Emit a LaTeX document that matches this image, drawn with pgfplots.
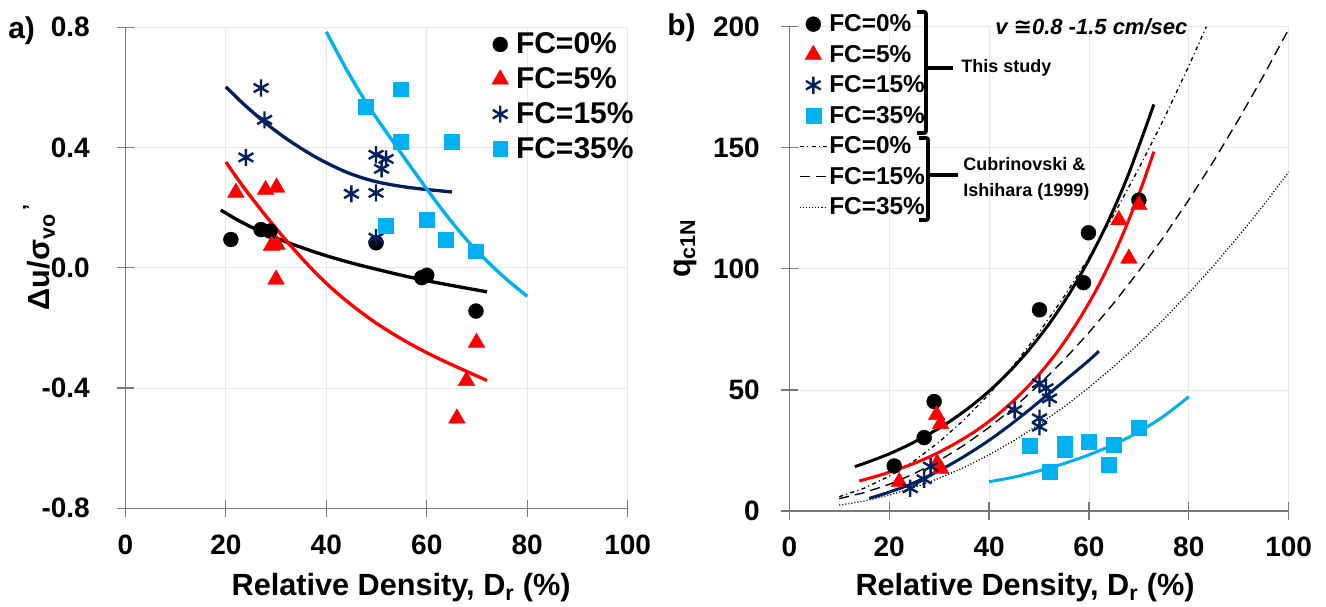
\documentclass[border=0pt]{standalone}
\usepackage{fontspec}
\setmainfont{Liberation Sans}
\newfontfamily\symfont{DejaVu Sans}
\usepackage{pgfplots}
\pgfplotsset{compat=1.18}

\definecolor{fcnavy}{RGB}{0,32,96}
\definecolor{fccyan}{RGB}{0,176,240}
\definecolor{fcred}{RGB}{255,0,0}
\definecolor{axgray}{RGB}{120,120,120}
\definecolor{gridgray}{RGB}{232,232,232}

\pgfplotsset{
  panel/.style={
    scale only axis,
    anchor=south west,
    axis x line=bottom, axis y line=left,
    axis line style={draw=axgray, line width=0.9pt, -},
    x axis line style={-}, y axis line style={-},
    tick style={draw=axgray, line width=0.9pt},
    major tick length=13pt,
    tick align=center,
    grid=major,
    major grid style={draw=gridgray, line width=0.6pt},
    xmin=0, xmax=100, xtick={0,20,...,100},
    /pgf/number format/assume math mode=true,
    ticklabel style={font=\fontsize{21pt}{25pt}\selectfont\bfseries},
    xticklabel style={anchor=north, inner sep=0pt},
    xticklabel shift=13pt,
    label style={font=\fontsize{23pt}{27pt}\selectfont\bfseries},
    legend cell align=left,
    legend image code/.code={\draw[mark repeat=2,mark phase=2,#1] plot coordinates {(0pt,0pt) (10pt,0pt) (20pt,0pt)};},
  },
  m0/.style={only marks, mark=*, mark size=5.6pt, black, mark options={fill=black, draw=black, line width=0.3pt, solid}},
  m5/.style={only marks, mark=triangle*, mark size=7.2pt, fcred, mark options={fill=fcred, draw=fcred, line width=0.3pt, solid}},
  m15/.style={only marks, mark=asterisk, mark size=6.4pt, fcnavy, mark options={line width=1.8pt, solid}},
  m35/.style={only marks, mark=square*, mark size=5.6pt, fccyan, mark options={fill=fccyan, draw=fccyan, line width=0.3pt, solid}},
}

\begin{document}
\begin{tikzpicture}
\path[use as bounding box] (0,0) rectangle (994.5pt,454.5pt);

% ---------------- a) pore pressure ratio ----------------
\begin{axis}[panel,
  at={(94.05pt,73.3pt)}, width=376.7pt, height=360.75pt,
  ymin=-0.8, ymax=0.8, ytick={-0.8,-0.4,0,0.4,0.8},
  yticklabels={-0.8,-0.4,0.0,0.4,0.8},
  yticklabel style={anchor=east, inner sep=0pt},
  yticklabel shift=20pt,
  xlabel={Relative Density, D\textsubscript{r} (\%)},
  xlabel style={at={(axis description cs:0.549,-0.165)}, anchor=center},
  legend style={draw=none, fill=none, at={(0.7297,0.988)}, anchor=north west,
    inner sep=0pt, outer sep=0pt, row sep=8.9pt, column sep=5.6pt,
    nodes={inner sep=0pt},
    font=\fontsize{22.5pt}{27pt}\selectfont\bfseries},
]
% trend curves
\addplot[forget plot, black, line width=2.5pt, smooth] coordinates {
 (19,0.192)(22,0.162)(25,0.136)(28,0.113)(32,0.086)(36,0.062)(40,0.040)
 (45,0.016)(50,-0.005)(55,-0.025)(60,-0.043)(65,-0.059)(72,-0.080)};
\addplot[forget plot, fcred, line width=2.5pt, smooth] coordinates {
 (20,0.352)(23,0.280)(26,0.214)(29,0.151)(32,0.091)(35,0.034)(38,-0.019)
 (41,-0.067)(44,-0.110)(47,-0.149)(50,-0.185)(54,-0.227)(58,-0.265)
 (62,-0.299)(66,-0.330)(72,-0.375)};
\addplot[forget plot, fcnavy, line width=2.5pt, smooth] coordinates {
 (20,0.602)(23,0.553)(26,0.508)(29,0.467)(32,0.430)(35,0.397)(38,0.367)
 (41,0.341)(44,0.318)(47,0.300)(50,0.286)(53,0.276)(56,0.268)(59,0.262)
 (62,0.257)(65,0.252)};
\addplot[forget plot, fccyan, line width=2.5pt, smooth] coordinates {
 (40,0.785)(44,0.660)(48,0.548)(52,0.450)(56,0.355)(60,0.262)(64,0.173)
 (68,0.092)(72,0.022)(76,-0.040)(80,-0.095)};
% test results
\addplot[m0] coordinates {(21,0.094)(27,0.127)(28.8,0.122)(49.9,0.083)(59,-0.033)(60,-0.025)(69.8,-0.144)};
\addlegendentry{FC=0\%}
\addplot[m5] coordinates {(22,0.25)(27.9,0.259)(30.1,0.267)(29.1,0.074)(30.2,0.077)(30,-0.039)(66,-0.501)(67.9,-0.376)(69.9,-0.249)};
\addlegendentry{FC=5\%}
\addplot[m15] coordinates {(27,0.598)(27.7,0.492)(24,0.367)(49.9,0.376)(51.9,0.362)(51,0.329)(45,0.246)(49.9,0.249)(49.9,0.100)};
\addlegendentry{FC=15\%}
\addplot[m35] coordinates {(47.8,0.537)(54.9,0.594)(54.9,0.420)(64.9,0.420)(51.9,0.141)(59.9,0.160)(63.8,0.092)(69.8,0.055)};
\addlegendentry{FC=35\%}
\end{axis}

% ---------------- b) normalised cone resistance ----------------
\begin{axis}[panel,
  at={(592pt,71.25pt)}, width=374.5pt, height=363.2pt,
  ymin=0, ymax=200, ytick={0,50,...,200},
  yticklabel style={anchor=east, inner sep=0pt},
  yticklabel shift=15.5pt,
  xlabel={Relative Density, D\textsubscript{r} (\%)},
  xlabel style={at={(axis description cs:0.472,-0.158)}, anchor=center},
  legend style={draw=none, fill=none, at={(0.020,1.025)}, anchor=north west,
    inner sep=0pt, outer sep=0pt, row sep=8.6pt, column sep=1.5pt,
    nodes={inner sep=0pt},
    font=\fontsize{18.3pt}{22pt}\selectfont\bfseries},
]
% Cubrinovski & Ishihara (1999)
\addplot[forget plot, black, line width=1pt, dash pattern=on 3pt off 2.5pt on 0.8pt off 2.5pt] coordinates {
 (10,5.9)(15,9.4)(20,14.4)(25,20.7)(30,28.5)(35,37.7)(40,48.3)(45,60.3)(50,73.7)
 (55,88.5)(60,104.7)(65,122.4)(70,141.5)(75,161.9)(80,183.8)(83.5,200)};
\addplot[forget plot, black, line width=1pt, dash pattern=on 7.5pt off 4.5pt] coordinates {
 (10,5.1)(15,7.6)(20,11.0)(25,15.4)(30,20.8)(35,27.2)(40,34.5)(45,42.8)(50,52.1)
 (55,62.4)(60,73.7)(65,85.9)(70,99.1)(75,113.3)(80,128.5)(85,144.6)(90,161.8)
 (95,179.9)(100,199.0)};
\addplot[forget plot, black, line width=1pt, dash pattern=on 0.8pt off 1.5pt] coordinates {
 (10,2.4)(15,4.1)(20,6.6)(25,9.7)(30,13.5)(35,18.0)(40,23.2)(45,29.1)(50,35.75)
 (55,43.0)(60,51.0)(65,59.7)(70,69.1)(75,79.2)(80,90.0)(85,101.4)(90,113.6)
 (95,126.4)(100,140)};
% trend curves of the test series
\addplot[forget plot, black, line width=2.25pt, smooth] coordinates {
 (13.1,18.3)(16,20.4)(20,23.6)(24,27.4)(28,31.8)(32,36.8)(36,42.7)(40,49.5)
 (44,57.4)(48,66.6)(52,77.2)(56,89.5)(60,103.8)(64,120.3)(68,139.5)(73,167.9)};
\addplot[forget plot, fcred, line width=2.25pt, smooth] coordinates {
 (14,12.4)(18,14.7)(22,17.4)(26,20.5)(30,24.3)(34,28.8)(38,34.0)(42,40.3)
 (46,47.7)(50,56.4)(54,66.7)(58,79.0)(62,93.4)(66,110.5)(70,130.8)(73,148.4)};
\addplot[forget plot, fcnavy, line width=2.25pt, smooth] coordinates {
 (16,5.2)(20,7.8)(24,10.8)(28,14.6)(32,18.9)(36,23.8)(40,29.2)(44,35.2)
 (48,41.7)(52,48.5)(56,55.3)(60,62.2)(62,66.0)};
\addplot[forget plot, fccyan, line width=2.25pt, smooth] coordinates {
 (40,12.1)(45,14.0)(50,16.6)(55,19.6)(60,23.2)(65,27.5)(70,32.7)(75,39.2)(80,47.2)};
% test results
\addplot[m0] coordinates {(21,18.6)(27,30.3)(29,45.2)(50.1,83.1)(58.9,94.3)(59.9,114.9)(70,128.4)};
\addlegendentry{FC=0\%}
\addplot[m5] coordinates {(22,12.0)(29.5,39.7)(30.3,36.0)(29.6,19.7)(30.3,17.5)(66,120.2)(68,104.3)(70,126.4)};
\addlegendentry{FC=5\%}
\addplot[m15] coordinates {(24.2,9.4)(27,13.1)(28.3,18.3)(45.1,41.7)(50.1,52.7)(51.4,50.7)(52.1,46.5)(50.1,38.3)(50.1,34.8)};
\addlegendentry{FC=15\%}
\addplot[m35] coordinates {(48.1,26.9)(52.1,16.3)(55.1,28.0)(55.1,25.5)(59.9,28.7)(64.9,27.3)(64,19.0)(70,34.4)};
\addlegendentry{FC=35\%}
\addlegendimage{black, line width=1pt, dash pattern=on 3pt off 2.5pt on 0.8pt off 2.5pt}
\addlegendentry{FC=0\%}
\addlegendimage{black, line width=1pt, dash pattern=on 7.5pt off 4.5pt}
\addlegendentry{FC=15\%}
\addlegendimage{black, line width=1pt, dash pattern=on 0.8pt off 1.5pt}
\addlegendentry{FC=35\%}
\end{axis}

% axis titles, panel letters, brackets and notes (pixel grid, origin top left)
\begin{scope}[x=0.75pt, y=-0.75pt, shift={(0pt,454.5pt)}]
\node[rotate=90, anchor=center, inner sep=0pt, font=\fontsize{23pt}{27pt}\selectfont\bfseries] at (39,257) {Δu/σ\textsubscript{vo}\textsuperscript{\,'}};
\node[rotate=90, anchor=center, inner sep=0pt, font=\fontsize{23pt}{27pt}\selectfont\bfseries] at (685,248.5) {q\textsubscript{c1N}};
\node[anchor=base west, inner sep=0pt, font=\fontsize{22.5pt}{27pt}\selectfont\bfseries] at (8,39) {a)};
\node[anchor=base west, inner sep=0pt, font=\fontsize{22.5pt}{27pt}\selectfont\bfseries] at (667,36) {b)};
\draw[line width=2.8pt, rounded corners=1.5pt] (917,12) -- (926,12) -- (926,133) -- (917,133);
\draw[line width=2.8pt] (926,68) -- (953,68);
\draw[line width=2.8pt, rounded corners=1.5pt] (919,138) -- (928,138) -- (928,220) -- (919,220);
\draw[line width=2.8pt] (928,175) -- (958,175);
\node[anchor=west, inner sep=0pt, font=\fontsize{13.5pt}{16pt}\selectfont\bfseries] at (961,68) {This study};
\node[anchor=west, inner sep=0pt, align=left, font=\fontsize{13.5pt}{19.5pt}\selectfont\bfseries] at (963,179) {Cubrinovski \&\\Ishihara (1999)};
\node[anchor=west, inner sep=0pt, font=\fontsize{16.5pt}{20pt}\selectfont\bfseries\itshape] at (995,27) {v {\symfont ≅}0.8 -1.5 cm/sec};
\end{scope}
\end{tikzpicture}
\end{document}
